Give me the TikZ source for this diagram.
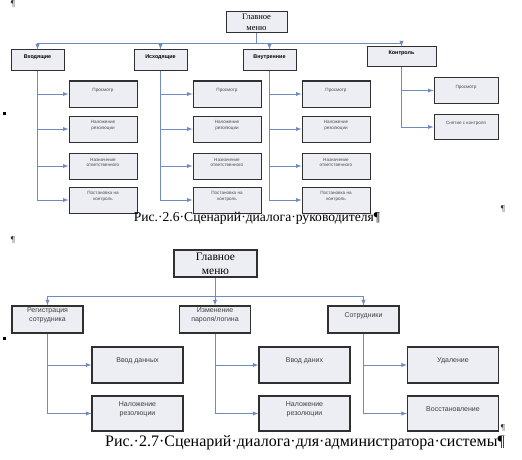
\documentclass[tikz,border=0pt]{standalone}
\usepackage{fontspec}
\setmainfont{Liberation Serif}
\setsansfont{Liberation Sans}
\definecolor{linkblue}{HTML}{6F8BBF}
\definecolor{boxfill}{HTML}{ECEEF3}
\definecolor{boxline}{HTML}{303030}

\begin{document}
\begin{tikzpicture}[x=1pt, y=-1pt, >=latex,
  box/.style={draw=boxline, fill=boxfill, line width=1pt, align=center, inner sep=0pt},
  leaftxt/.style={font=\sffamily\fontsize{4.6}{5.8}\selectfont, text=black!70, align=center, inner sep=0pt, yshift=3.5pt},
  headtxt/.style={font=\sffamily\bfseries\fontsize{5.4}{6.5}\selectfont, inner sep=0pt, yshift=3.5pt},
  itemtxt/.style={font=\sffamily\fontsize{7}{8.5}\selectfont, text=black!75, align=center, inner sep=0pt, yshift=4pt},
  leaf/.style={box, label={[leaftxt]center:#1}},
  head/.style={box, label={[headtxt]center:#1}},
  item/.style={box, line width=1.1pt, label={[itemtxt]center:#1}},
  link/.style={draw=linkblue, line width=0.9pt},
  pilcrow/.style={font=\fontsize{9}{10}\selectfont, text=black!80},
  dot/.style={fill=black, minimum size=3, inner sep=0pt}]
  \useasboundingbox (0,0) rectangle (522,460);

  % Fig. 2.6
  \node[box, minimum width=61, minimum height=21, font=\fontsize{8.5}{10.5}\selectfont] (menuA) at (256.5,22.5) {Главное\\меню};
  \coordinate (busA) at (256.5,43);
  \draw[link] (menuA) -- (busA);
  \foreach \name/\x/\txt in {inc/37.5/Входящие, out/160.5/Исходящие, int/269.5/Внутренние} {
    \node[head=\txt, minimum width=53, minimum height=21] (\name) at (\x,60.5) {};
    \draw[link,->] (busA) -| (\name.north);
  }
  \node[head=Контроль, minimum width=69, minimum height=20] (ctl) at (401.5,57) {};
  \draw[link,->] (busA) -| (ctl.north);

  \foreach \h/\x in {inc/103, out/227, int/336}
  \foreach \t/\y [count=\i] in {Просмотр/94, {Наложение\\резолюции}/129,
      {Назначение\\ответственного}/166, {Постановка на\\контроль}/200} {
    \node[leaf=\t, minimum width=68, minimum height=26] (\h\i) at (\x,\y) {};
    \draw[link,->] (\h.south) |- (\h\i.west);
  }
  \foreach \t/\y [count=\i] in {Просмотр/90.5, Снятие с контроля/127} {
    \node[leaf=\t, minimum width=64, minimum height=25] (ctl\i) at (466,\y) {};
    \draw[link,->] (ctl.south) |- (ctl\i.west);
  }
  \node[font=\fontsize{13.6}{15}\selectfont] (capA) at (257,218) {Рис.·2.6·Сценарий·диалога·руководителя¶};

  % Fig. 2.7
  \node[box, line width=1.1pt, minimum width=83, minimum height=27, font=\fontsize{11.5}{14}\selectfont] (menuB) at (215.5,263.5) {Главное\\меню};
  \coordinate (busB) at (215.5,296);
  \draw[link] (menuB) -- (busB);
  \foreach \name/\x/\txt in {reg/47.5/{Регистрация\\сотрудника}, pwd/215/{Изменение\\пароля/логина}, emp/363.5/Сотрудники} {
    \node[item=\txt, minimum width=71, minimum height=27] (\name) at (\x,319.5) {};
    \draw[link,->] (busB) -| (\name.north);
  }
  \foreach \h/\x/\ta/\tb in {reg/137.5/Ввод данных/{Наложение\\резолюции},
      pwd/304.5/Ввод даних/{Наложение\\резолюции}, emp/453/Удаление/Восстановление} {
    \node[item=\ta, minimum width=91, minimum height=36] (\h1) at (\x,365) {};
    \node[item=\tb, minimum width=91, minimum height=35] (\h2) at (\x,413.5) {};
    \draw[link,->] (\h.south) |- (\h1.west);
    \draw[link,->] (\h.south) |- (\h2.west);
  }
  \node[font=\fontsize{16}{18}\selectfont] (capB) at (305,443) {Рис.·2.7·Сценарий·диалога·для·администратора·системы¶};

  % stray marks
  \node[pilcrow] (pA) at (13,4) {¶};
  \node[pilcrow] (pB) at (13,240) {¶};
  \node[pilcrow] (pC) at (503,209) {¶};
  \node[pilcrow] (pD) at (503,428) {¶};
  \node[dot] (bA) at (4,113) {};
  \node[dot] (bB) at (4,338) {};
\end{tikzpicture}
\end{document}
